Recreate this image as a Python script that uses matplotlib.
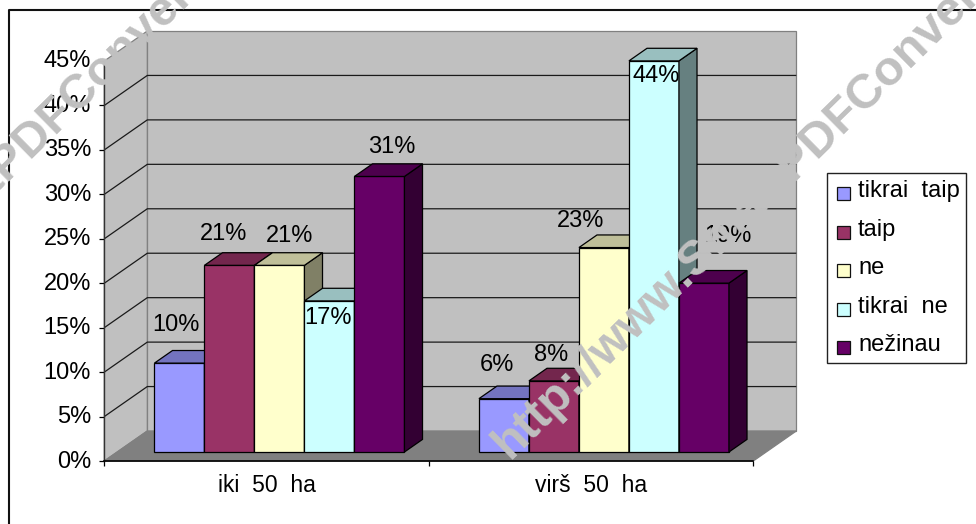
import matplotlib
matplotlib.use('Agg')
from matplotlib import pyplot as plt
from matplotlib.lines import Line2D
from matplotlib.patches import Rectangle
from matplotlib.transforms import ScaledTranslation

plt.rcParams['font.family'] = ['Liberation Sans', 'DejaVu Sans']

categories = ['iki  50  ha', 'virš  50  ha']
series_names = ['tikrai  taip', 'taip', 'ne', 'tikrai  ne', 'nežinau']
iki_50 = [10, 21, 21, 17, 31]
virs_50 = [6, 8, 23, 44, 19]
y_ticks = [0, 5, 10, 15, 20, 25, 30, 35, 40, 45]

front_colors = ['#9999FF', '#993366', '#FFFFCC', '#CCFFFF', '#660066']
top_colors = ['#7373BF', '#73264D', '#BFBF99', '#99BFBF', '#4D004D']
side_colors = ['#4D4D80', '#4D1A33', '#808066', '#668080', '#330033']

# label offsets from the top centre of each bar front, in pixels
label_dx = [[-4, -6, 10, -1, 12], [-7, -3, -23, 2, 24]]
label_dy = [[38, 31, 29, -17, 29], [34, 26, 27, -15, 47]]

W, H = 976, 524
fig = plt.figure(figsize=(W / 100, H / 100), dpi=100)
ax = fig.add_axes([104.3 / W, 1 - 461 / H, 649 / W, 400 / H])
ax.set_xlim(0, 2)
ax.set_ylim(0, 45)
ax.patch.set_visible(False)

# depth of the 3d box, in data units
depth_x = 43 / 649 * 2
depth_y = 30 / 400 * 45
px_x = 2 / 649
px_y = 45 / 400


def shift(x, y, d):
    return x + d * depth_x, y + d * depth_y


def face(points, color, edge, z, lw=0.9):
    xs = [shift(*p)[0] for p in points]
    ys = [shift(*p)[1] for p in points]
    ax.fill(xs, ys, facecolor=color, edgecolor=edge, linewidth=lw, zorder=z,
            clip_on=False, joinstyle='miter')


def line(points, color, z, lw=0.9):
    xs = [shift(*p)[0] for p in points]
    ys = [shift(*p)[1] for p in points]
    ax.plot(xs, ys, color=color, lw=lw, zorder=z, clip_on=False,
            solid_capstyle='butt')


# walls and floor
face([(0, 0, 1), (2, 0, 1), (2, 45, 1), (0, 45, 1)], '#C0C0C0', '#808080', 1)
face([(0, 0, 0), (0, 0, 1), (0, 45, 1), (0, 45, 0)], '#C0C0C0', '#808080', 1)
face([(0, 0, 0), (2, 0, 0), (2, 0, 1), (0, 0, 1)], '#808080', '#808080', 1)
for t in y_ticks[1:-1]:
    line([(0, t, 0), (0, t, 1), (2, t, 1)], '#1A1A1A', 2)

# bars
bar_w = 50 * px_x
d0 = 0.30
d1 = 0.72
for g, values in enumerate([iki_50, virs_50]):
    for i, v in enumerate(values):
        x0 = g + 0.5 + (i - 2.5) * bar_w
        x1 = x0 + bar_w
        z = 3 + g * 5 + i
        face([(x0, 0, d0), (x1, 0, d0), (x1, v, d0), (x0, v, d0)],
             front_colors[i], 'black', z)
        face([(x1, 0, d0), (x1, 0, d1), (x1, v, d1), (x1, v, d0)],
             side_colors[i], 'black', z)
        face([(x0, v, d0), (x1, v, d0), (x1, v, d1), (x0, v, d1)],
             top_colors[i], 'black', z)
        cx, cy = shift((x0 + x1) / 2, v, d0)
        ax.text(cx + label_dx[g][i] * px_x, cy + label_dy[g][i] * px_y,
                f'{v}%', ha='center', va='center', fontsize=17,
                color='black', zorder=20, clip_on=False)

# axes
for side in ['top', 'right']:
    ax.spines[side].set_visible(False)
ax.spines['left'].set_color('#333333')
ax.spines['left'].set_linewidth(1.0)
ax.spines['bottom'].set_linewidth(1.2)
ax.set_yticks(y_ticks)
ax.set_yticklabels([f'{t}%' for t in y_ticks], fontsize=17)
ax.tick_params(axis='y', length=3.6, width=0.9, pad=6)
lift = ScaledTranslation(0, 2 / 100, fig.dpi_scale_trans)
for lab in ax.get_yticklabels():
    lab.set_transform(lab.get_transform() + lift)
ax.set_xticks([0, 1, 2])
ax.set_xticklabels([])
ax.tick_params(axis='x', length=3.6, width=0.9)
ax.set_xticks([0.5, 1.5], categories, minor=True, fontsize=16.5)
ax.tick_params(axis='x', which='minor', length=0, pad=9)


def fx(px):
    return px / W


def fy(py):
    return 1 - py / H


# outer frame, open on the right and the bottom
fig.add_artist(Line2D([fx(9), fx(9), fx(976)], [fy(524), fy(10), fy(10)],
                      color='#111111', lw=1.5))

# legend box
fig.add_artist(Rectangle((fx(827), fy(363)), 139 / W, 190 / H,
                         transform=fig.transFigure, facecolor='white',
                         edgecolor='#222222', lw=1.0))
for i, name in enumerate(series_names):
    row_y = 193 + i * 38.6
    fig.add_artist(Rectangle((fx(837), fy(row_y + 7)), 13 / W, 13 / H,
                             transform=fig.transFigure,
                             facecolor=front_colors[i], edgecolor='#111111',
                             lw=0.9))
    fig.text(fx(858), fy(row_y - 2), name, fontsize=17, ha='left',
             va='center', color='black')

# watermark lying across everything, the same line repeated further left
for start in [510, 510 - 787]:
    fig.text(fx(start), fy(460), 'http://www.SmartPDFConverter.com',
             fontsize=35, fontweight='bold', color='#C0C0C0', rotation=44.5,
             rotation_mode='anchor', ha='left', va='baseline', zorder=50)

fig.savefig('out.png', dpi=100)
